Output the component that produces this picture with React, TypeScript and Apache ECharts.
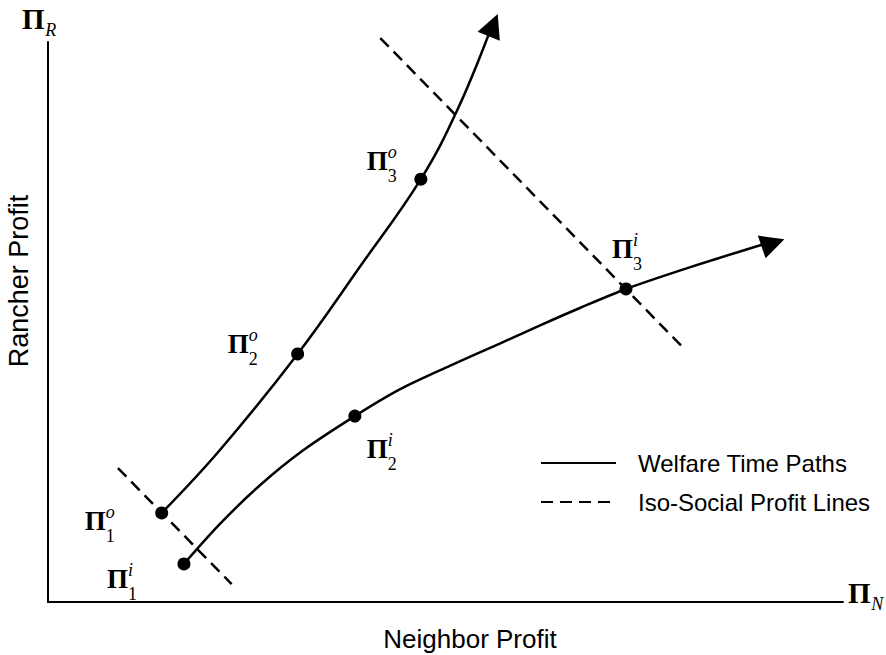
import React, { useEffect, useRef } from 'react';
import * as echarts from 'echarts';

// Welfare time paths (data units, 0-100 on both axes)
const outerPath: number[][] = [
  [14.3, 15.9], [21.6, 27.1], [31.4, 44.3], [39.3, 60.0], [46.9, 75.5], [51.5, 87.9], [55.5, 101.6],
];
const innerPath: number[][] = [
  [17.1, 6.8], [21.6, 13.9], [26.7, 20.9], [32.1, 27.1], [38.6, 33.2], [44.3, 38.0],
  [50.6, 42.2], [56.9, 46.2], [61.9, 49.4], [66.9, 52.5], [72.7, 55.9], [80.8, 59.8], [89.8, 63.8],
];
// Marked states on each path
const outerDots: number[][] = [[14.3, 15.9], [31.4, 44.3], [46.9, 75.5]];
const innerDots: number[][] = [[17.1, 6.8], [38.6, 33.2], [72.7, 55.9]];
// Iso-social profit lines
const isoLineLow: number[][] = [[8.8, 23.9], [23.1, 3.2]];
const isoLineHigh: number[][] = [[41.8, 100.7], [79.9, 45.4]];
// Arrow heads at the path ends
const arrowHeads: number[][] = [[56.0, 103.0], [91.2, 64.1]];
const arrowAngles: number[] = [-22, -71];

const outerSup = 'o';
const innerSup = 'i';
const stageSubs = ['1', '2', '3'];
const legendNames = ['Welfare Time Paths', 'Iso-Social Profit Lines'];
const xTitle = 'Neighbor Profit';
const yTitle = 'Rancher Profit';
const axisSymbol = 'Π';
const xAxisSub = 'N';
const yAxisSub = 'R';

export default function App() {
  const ref = useRef<HTMLDivElement>(null);
  useEffect(() => {
    document.body.style.margin = '0';
    const chart = echarts.init(ref.current!, null, { renderer: 'svg' });
    const solid = { color: '#000', width: 2.5, type: 'solid' as const };
    const dashed = { color: '#000', width: 2.5, type: [12, 7] as any };
    const axisCommon = {
      type: 'value' as const,
      min: 0,
      max: 100,
      axisLine: { show: true, onZero: false, lineStyle: { color: '#000', width: 2 } },
      axisTick: { show: false },
      axisLabel: { show: false },
      splitLine: { show: false },
    };
    chart.setOption({
      animation: false,
      backgroundColor: '#fff',
      grid: { left: 48, right: 43, top: 42, bottom: 53 },
      xAxis: axisCommon,
      yAxis: axisCommon,
      legend: {
        data: legendNames,
        orient: 'vertical',
        left: 540,
        top: 451,
        padding: 0,
        itemWidth: 75,
        itemHeight: 24,
        itemGap: 15,
        selectedMode: false,
        itemStyle: { opacity: 0 },
        textStyle: {
          fontFamily: '"Liberation Sans", Arial, sans-serif',
          fontSize: 24,
          color: '#000',
          padding: [0, 0, 0, 17],
        },
      },
      series: [
        { type: 'line', name: legendNames[0], data: outerPath, symbol: 'none', smooth: 0.4, lineStyle: solid, itemStyle: { color: '#000' }, clip: false, z: 2 },
        { type: 'line', name: legendNames[0], data: innerPath, symbol: 'none', smooth: 0.3, lineStyle: solid, itemStyle: { color: '#000' }, clip: false, z: 2 },
        { type: 'line', name: legendNames[1], data: isoLineLow, symbol: 'none', lineStyle: dashed, itemStyle: { color: '#000' }, clip: false, z: 2 },
        { type: 'line', name: legendNames[1], data: isoLineHigh, symbol: 'none', lineStyle: dashed, itemStyle: { color: '#000' }, clip: false, z: 2 },
        { type: 'scatter', name: 'states', data: [...outerDots, ...innerDots], symbolSize: 13, itemStyle: { color: '#000', opacity: 1 }, clip: false, z: 5 },
        {
          type: 'scatter', name: 'arrows',
          data: arrowHeads.map((p, i) => ({ value: p, symbolRotate: arrowAngles[i] })),
          symbol: 'triangle', symbolSize: [24, 24], itemStyle: { color: '#000', opacity: 1 }, clip: false, z: 5,
        },
      ],
    });

    const px = (p: number[]) => chart.convertToPixel({ gridIndex: 0 }, p) as number[];
    const serif = '"Liberation Serif", "DejaVu Serif", serif';
    const piLabel = (pos: number[], dx: number, dy: number, sup: string, sub: string) => ({
      type: 'group',
      x: pos[0] + dx,
      y: pos[1] + dy,
      children: [
        { type: 'text', x: 0, y: 0, style: { text: axisSymbol, fontFamily: serif, fontSize: 27, fontWeight: 'bold', fill: '#000', align: 'left', verticalAlign: 'middle' } },
        { type: 'text', x: 21, y: -9, style: { text: sup, fontFamily: serif, fontSize: 18, fontStyle: 'italic', fill: '#000', align: 'left', verticalAlign: 'middle' } },
        { type: 'text', x: 21, y: 15, style: { text: sub, fontFamily: serif, fontSize: 18, fill: '#000', align: 'left', verticalAlign: 'middle' } },
      ],
    });
    const outerOffsets = [[-77, 8], [-70, -10], [-54, -18]];
    const innerOffsets = [[-77, 15], [12, 33], [-14, -40]];
    const labels: any[] = [];
    outerDots.forEach((d, i) => labels.push(piLabel(px(d), outerOffsets[i][0], outerOffsets[i][1], outerSup, stageSubs[i])));
    innerDots.forEach((d, i) => labels.push(piLabel(px(d), innerOffsets[i][0], innerOffsets[i][1], innerSup, stageSubs[i])));

    const yTop = px([0, 100]);
    const xEnd = px([100, 0]);
    const axisSym = (pos: number[], dx: number, dy: number, sub: string, size: number) => ({
      type: 'group',
      x: pos[0] + dx,
      y: pos[1] + dy,
      children: [
        { type: 'text', x: 0, y: 0, style: { text: axisSymbol, fontFamily: serif, fontSize: size, fontWeight: 'bold', fill: '#000', align: 'left', verticalAlign: 'middle' } },
        { type: 'text', x: size * 0.8, y: 11, style: { text: sub, fontFamily: serif, fontSize: 18, fontStyle: 'italic', fill: '#000', align: 'left', verticalAlign: 'middle' } },
      ],
    });
    labels.push(axisSym(yTop, -26, -23, yAxisSub, 29));
    labels.push(axisSym(xEnd, 5, -9, xAxisSub, 29));

    labels.push({
      type: 'text', x: 470, y: 639,
      style: { text: xTitle, fontFamily: '"Liberation Sans", Arial, sans-serif', fontSize: 26, fill: '#000', align: 'center', verticalAlign: 'middle' },
    });
    labels.push({
      type: 'text', x: 19, y: 281, rotation: Math.PI / 2,
      style: { text: yTitle, fontFamily: '"Liberation Sans", Arial, sans-serif', fontSize: 27, fill: '#000', align: 'center', verticalAlign: 'middle' },
    });

    chart.setOption({ graphic: labels });
    return () => chart.dispose();
  }, []);
  return <div ref={ref} style={{ position: 'absolute', left: 0, top: 0, width: 886, height: 655 }} />;
}
